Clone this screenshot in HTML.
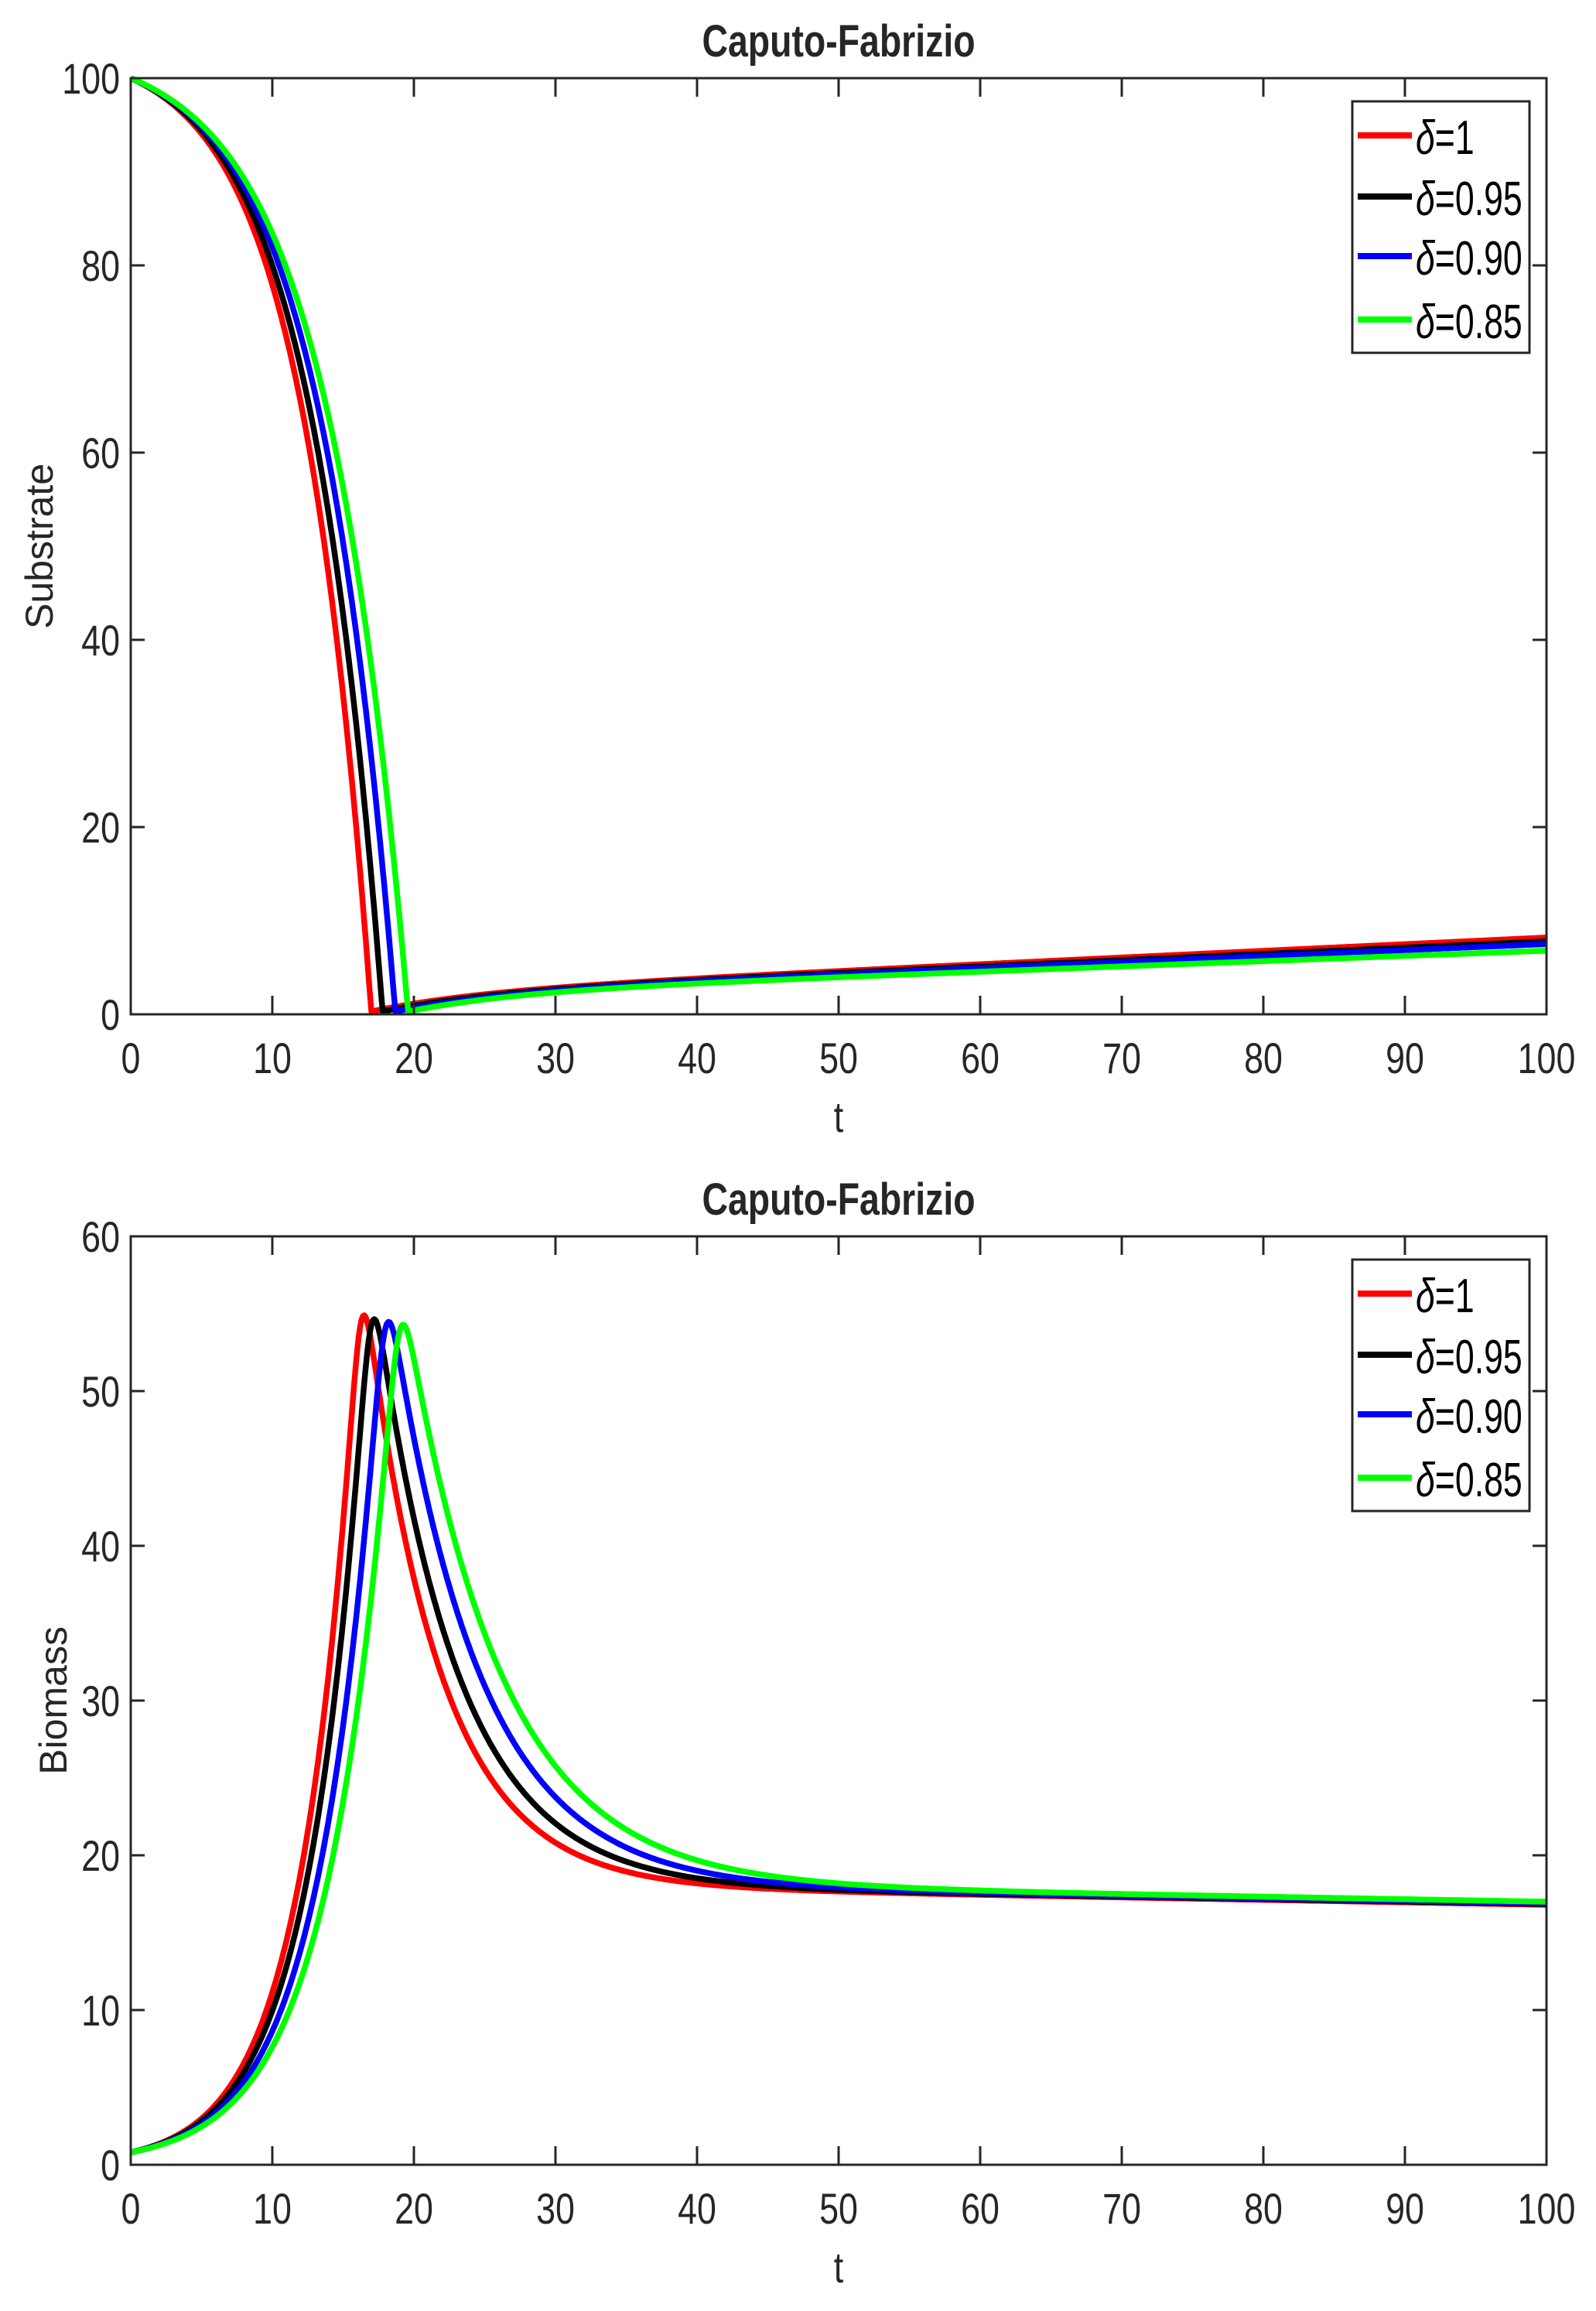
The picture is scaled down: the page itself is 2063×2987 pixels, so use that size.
<!DOCTYPE html>
<html><head><meta charset="utf-8"><style>
html,body{margin:0;padding:0;background:#fff;}
svg{display:block;}
</style></head><body>
<svg id="s" width="2063" height="2987" viewBox="0 0 2063 2987" xmlns="http://www.w3.org/2000/svg" font-family="Liberation Sans, Arial, sans-serif">
<rect width="2063" height="2987" fill="#fff"/>
<g id="curves"></g>
<g id="axes" stroke="#262626" stroke-width="3" fill="none"></g>
<g id="txt" fill="#262626"></g>
</svg>
<script>
const NS="http://www.w3.org/2000/svg";
const X0=169,X1=1999;
const P1={top:101,bot:1311,ymax:100,step:20};
const P2={top:1598,bot:2798,ymax:60,step:10};
function el(tag,attrs,parent,text){const e=document.createElementNS(NS,tag);for(const k in attrs)e.setAttribute(k,attrs[k]);if(text!==undefined)e.textContent=text;parent.appendChild(e);return e;}
const cur=document.getElementById('curves'),ax=document.getElementById('axes'),tx=document.getElementById('txt');
function sx(t){return X0+(X1-X0)*t/100;}
function sy(P,v){return P.bot-(P.bot-P.top)*v/P.ymax;}
function ntext(x,y,s,size,anchor,weight,sc){
  const g=el('g',{transform:`translate(${x},${y}) scale(${sc||0.8},1)`},tx);
  el('text',{x:0,y:0,'font-size':size,'text-anchor':anchor||'middle','font-weight':weight||'normal'},g,s);
}
function axes(P,title,ylabel,ylx){
  el('rect',{x:X0,y:P.top,width:X1-X0,height:P.bot-P.top},ax);
  for(let t=0;t<=100;t+=10){const x=sx(t);
    el('line',{x1:x,y1:P.bot,x2:x,y2:P.bot-24},ax);
    el('line',{x1:x,y1:P.top,x2:x,y2:P.top+24},ax);
    ntext(x,P.bot+76,String(t),56,'middle');}
  for(let v=0;v<=P.ymax;v+=P.step){const y=sy(P,v);
    el('line',{x1:X0,y1:y,x2:X0+18,y2:y},ax);
    el('line',{x1:X1,y1:y,x2:X1-18,y2:y},ax);
    ntext(155,y+20,String(v),56,'end');}
  ntext(1084,P.top-28,title,58,'middle','bold',0.8);
  ntext(1084,P.bot+152,'t',56,'middle');
  const g=el('g',{transform:`translate(${ylx},${(P.top+P.bot)/2}) rotate(-90)`},tx);
  el('text',{x:0,y:0,'font-size':50,'text-anchor':'middle'},g,ylabel);
  const L={x:1748,y:P.top+30,w:229,h:325};
  el('rect',{x:L.x,y:L.y,width:L.w,height:L.h,fill:'#fff'},ax);
  const cols=['#ff0000','#000000','#0000ff','#00ff00'],labs=['1','0.95','0.90','0.85'];
  const rows=[74,153,230,312];
  rows.forEach((r,i)=>{const y=P.top+r;
    el('line',{x1:1755,y1:y,x2:1825,y2:y,stroke:cols[i],'stroke-width':8},cur.parentNode);
    const g=el('g',{transform:`translate(1830,${y+24}) scale(0.72,1)`},tx);
    const t=el('text',{x:0,y:0,'font-size':62,fill:'#000'},g);
    el('tspan',{'font-style':'italic'},t,'δ');
    el('tspan',{},t,'='+labs[i]);
  });
}
const cols=['#ff0000','#000000','#0000ff','#00ff00'];
const sub=[{T:17,r:0.2,e:8.2},{T:17.8,r:0.19,e:7.8},{T:18.7,r:0.18,e:7.5},{T:19.6,r:0.17,e:6.8}];
sub.forEach((c,i)=>{let d='';
  const slope=(c.e-0.3-2)/(100-c.T);
  for(let t=0;t<=100;t+=0.1){
    let dec=t<c.T?100*(1-(Math.exp(c.r*t)-1)/(Math.exp(c.r*c.T)-1)):0;
    let rise=t<c.T?0.3:0.3+2*(1-Math.exp(-(t-c.T)/8))+slope*(t-c.T);
    const p=3;
    const v=Math.pow(Math.pow(Math.max(dec,0),p)+Math.pow(rise,p),1/p);
    d+=(d?'L':'M')+sx(t).toFixed(1)+','+sy(P1,v).toFixed(1);}
  el('path',{d:d,fill:'none',stroke:cols[i],'stroke-width':7.5,'stroke-linejoin':'round'},cur);});
const bio=[{Tp:16.3,pk:54.6,tau:5.2,b0:18.4},{Tp:17.0,pk:54.3,tau:5.7,b0:18.45},{Tp:18.0,pk:54.1,tau:6.2,b0:18.5},{Tp:19.0,pk:53.9,tau:6.7,b0:18.6}];
bio.forEach((c,i)=>{let d='';
  const p=10;
  const pk=c.pk/Math.pow(2,-1/p);
  const r=Math.log(pk/0.8)/c.Tp;
  for(let t=0;t<=100;t+=0.1){
    const B=c.b0-0.016*t;
    const rise=0.8*Math.exp(r*t);
    const dec=B+(pk-(c.b0-0.016*c.Tp))*Math.exp(-(t-c.Tp)/c.tau);
    const v=Math.pow(Math.pow(rise,-p)+Math.pow(dec,-p),-1/p);
    d+=(d?'L':'M')+sx(t).toFixed(1)+','+sy(P2,v).toFixed(1);}
  el('path',{d:d,fill:'none',stroke:cols[i],'stroke-width':7.5,'stroke-linejoin':'round'},cur);});
axes(P1,'Caputo-Fabrizio','Substrate',68);
axes(P2,'Caputo-Fabrizio','Biomass',86);
</script>
</body></html>
